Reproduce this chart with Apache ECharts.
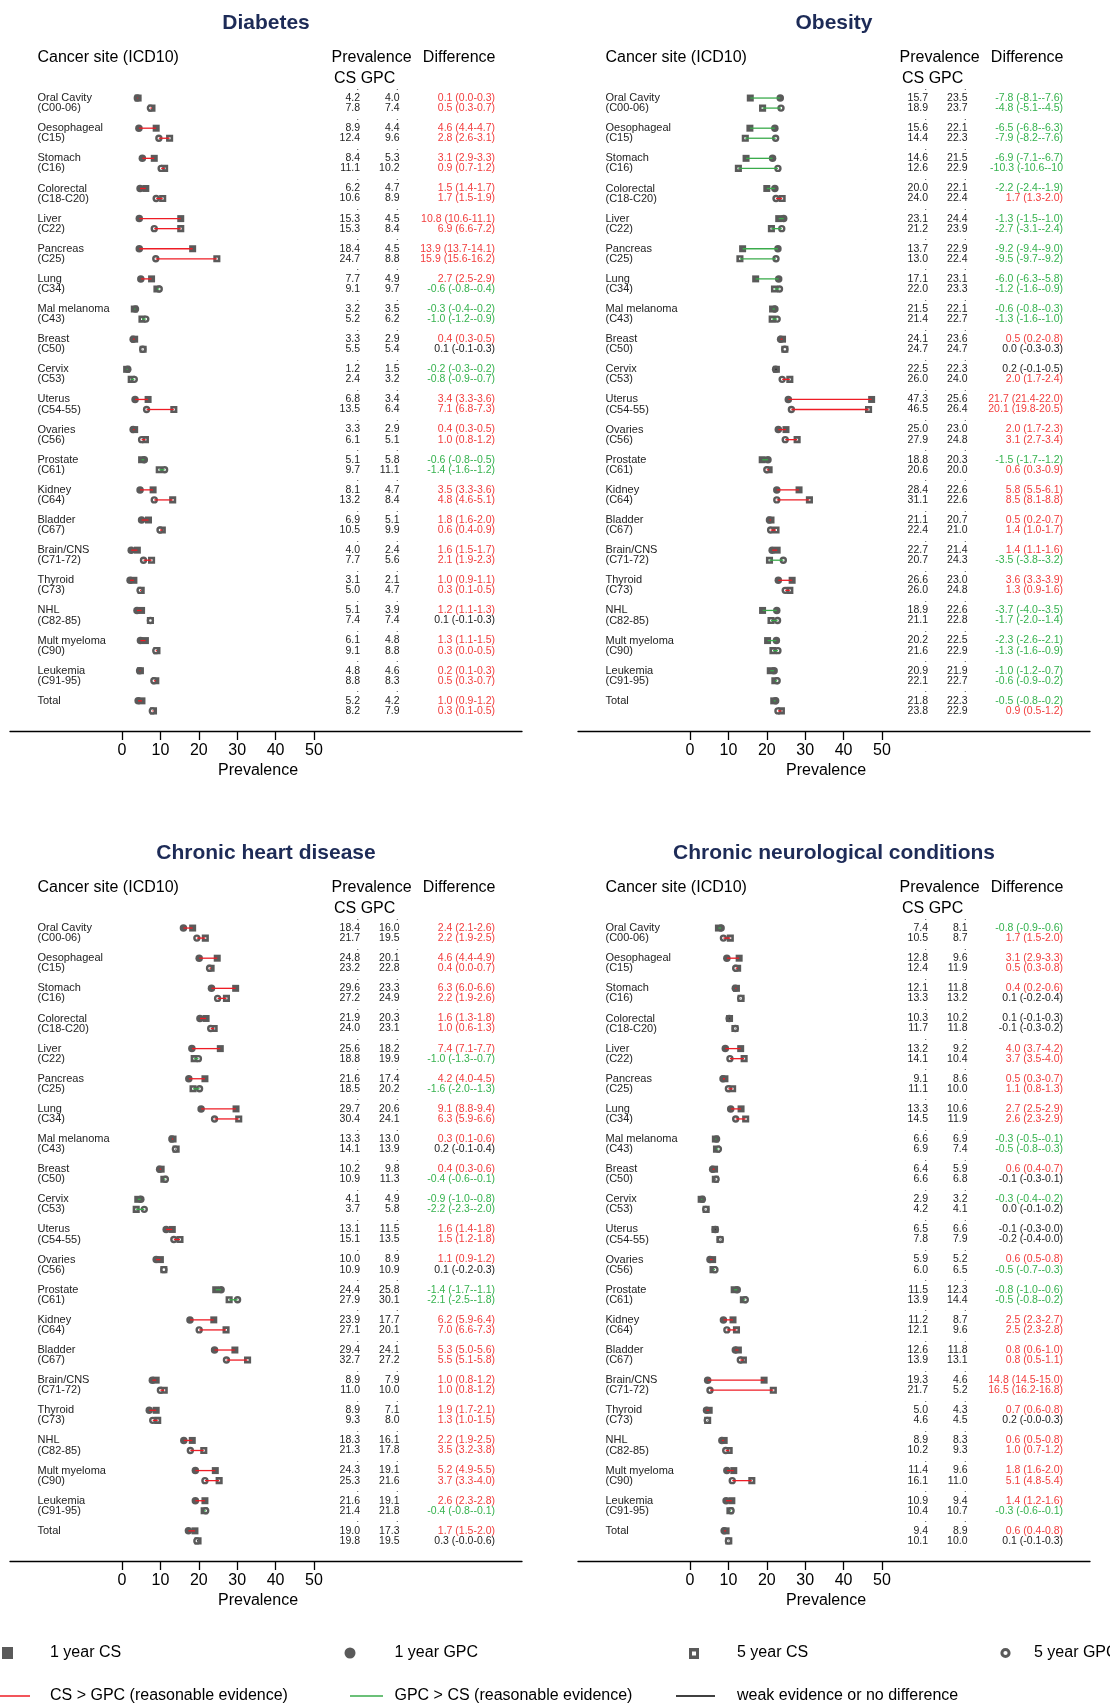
<!DOCTYPE html>
<html>
<head>
<meta charset="utf-8">
<title>Prevalence of comorbidities by cancer site</title>
<script src="https://cdn.jsdelivr.net/npm/echarts@6.0.0/dist/echarts.min.js"></script>
<style>
    html, body { margin: 0; padding: 0; background: #fff; }
    #main { width: 1110px; height: 1705px; }
</style>
</head>
<body>
<div id="main"></div>
<script>
    // ---- data ----
    const sites = ['Oral Cavity', 'Oesophageal', 'Stomach', 'Colorectal', 'Liver', 'Pancreas', 'Lung',
        'Mal melanoma', 'Breast', 'Cervix', 'Uterus', 'Ovaries', 'Prostate', 'Kidney', 'Bladder',
        'Brain/CNS', 'Thyroid', 'NHL', 'Mult myeloma', 'Leukemia', 'Total'];
    const codes = ['(C00-06)', '(C15)', '(C16)', '(C18-C20)', '(C22)', '(C25)', '(C34)', '(C43)', '(C50)',
        '(C53)', '(C54-55)', '(C56)', '(C61)', '(C64)', '(C67)', '(C71-72)', '(C73)', '(C82-85)', '(C90)',
        '(C91-95)', ''];
    const xTicks = [0, 10, 20, 30, 40, 50];
    const panelTitles = ['Diabetes', 'Obesity', 'Chronic heart disease', 'Chronic neurological conditions'];

    const diabetesCs1 = [4.2, 8.9, 8.4, 6.2, 15.3, 18.4, 7.7, 3.2, 3.3, 1.2, 6.8, 3.3, 5.1, 8.1, 6.9, 4.0, 3.1, 5.1, 6.1, 4.8, 5.2];
    const diabetesGpc1 = [4.0, 4.4, 5.3, 4.7, 4.5, 4.5, 4.9, 3.5, 2.9, 1.5, 3.4, 2.9, 5.8, 4.7, 5.1, 2.4, 2.1, 3.9, 4.8, 4.6, 4.2];
    const diabetesCs5 = [7.8, 12.4, 11.1, 10.6, 15.3, 24.7, 9.1, 5.2, 5.5, 2.4, 13.5, 6.1, 9.7, 13.2, 10.5, 7.7, 5.0, 7.4, 9.1, 8.8, 8.2];
    const diabetesGpc5 = [7.4, 9.6, 10.2, 8.9, 8.4, 8.8, 9.7, 6.2, 5.4, 3.2, 6.4, 5.1, 11.1, 8.4, 9.9, 5.6, 4.7, 7.4, 8.8, 8.3, 7.9];
    const diabetesDiff1 = ['0.1 (0.0-0.3)', '4.6 (4.4-4.7)', '3.1 (2.9-3.3)', '1.5 (1.4-1.7)', '10.8 (10.6-11.1)',
        '13.9 (13.7-14.1)', '2.7 (2.5-2.9)', '-0.3 (-0.4--0.2)', '0.4 (0.3-0.5)', '-0.2 (-0.3--0.2)', '3.4 (3.3-3.6)',
        '0.4 (0.3-0.5)', '-0.6 (-0.8--0.5)', '3.5 (3.3-3.6)', '1.8 (1.6-2.0)', '1.6 (1.5-1.7)', '1.0 (0.9-1.1)',
        '1.2 (1.1-1.3)', '1.3 (1.1-1.5)', '0.2 (0.1-0.3)', '1.0 (0.9-1.2)'];
    const diabetesDiff5 = ['0.5 (0.3-0.7)', '2.8 (2.6-3.1)', '0.9 (0.7-1.2)', '1.7 (1.5-1.9)', '6.9 (6.6-7.2)',
        '15.9 (15.6-16.2)', '-0.6 (-0.8--0.4)', '-1.0 (-1.2--0.9)', '0.1 (-0.1-0.3)', '-0.8 (-0.9--0.7)', '7.1 (6.8-7.3)',
        '1.0 (0.8-1.2)', '-1.4 (-1.6--1.2)', '4.8 (4.6-5.1)', '0.6 (0.4-0.9)', '2.1 (1.9-2.3)', '0.3 (0.1-0.5)',
        '0.1 (-0.1-0.3)', '0.3 (0.0-0.5)', '0.5 (0.3-0.7)', '0.3 (0.1-0.5)'];

    const obesityCs1 = [15.7, 15.6, 14.6, 20.0, 23.1, 13.7, 17.1, 21.5, 24.1, 22.5, 47.3, 25.0, 18.8, 28.4, 21.1, 22.7, 26.6, 18.9, 20.2, 20.9, 21.8];
    const obesityGpc1 = [23.5, 22.1, 21.5, 22.1, 24.4, 22.9, 23.1, 22.1, 23.6, 22.3, 25.6, 23.0, 20.3, 22.6, 20.7, 21.4, 23.0, 22.6, 22.5, 21.9, 22.3];
    const obesityCs5 = [18.9, 14.4, 12.6, 24.0, 21.2, 13.0, 22.0, 21.4, 24.7, 26.0, 46.5, 27.9, 20.6, 31.1, 22.4, 20.7, 26.0, 21.1, 21.6, 22.1, 23.8];
    const obesityGpc5 = [23.7, 22.3, 22.9, 22.4, 23.9, 22.4, 23.3, 22.7, 24.7, 24.0, 26.4, 24.8, 20.0, 22.6, 21.0, 24.3, 24.8, 22.8, 22.9, 22.7, 22.9];
    const obesityDiff1 = ['-7.8 (-8.1--7.6)', '-6.5 (-6.8--6.3)', '-6.9 (-7.1--6.7)', '-2.2 (-2.4--1.9)', '-1.3 (-1.5--1.0)',
        '-9.2 (-9.4--9.0)', '-6.0 (-6.3--5.8)', '-0.6 (-0.8--0.3)', '0.5 (0.2-0.8)', '0.2 (-0.1-0.5)', '21.7 (21.4-22.0)',
        '2.0 (1.7-2.3)', '-1.5 (-1.7--1.2)', '5.8 (5.5-6.1)', '0.5 (0.2-0.7)', '1.4 (1.1-1.6)', '3.6 (3.3-3.9)',
        '-3.7 (-4.0--3.5)', '-2.3 (-2.6--2.1)', '-1.0 (-1.2--0.7)', '-0.5 (-0.8--0.2)'];
    const obesityDiff5 = ['-4.8 (-5.1--4.5)', '-7.9 (-8.2--7.6)', '-10.3 (-10.6--10', '1.7 (1.3-2.0)', '-2.7 (-3.1--2.4)',
        '-9.5 (-9.7--9.2)', '-1.2 (-1.6--0.9)', '-1.3 (-1.6--1.0)', '0.0 (-0.3-0.3)', '2.0 (1.7-2.4)', '20.1 (19.8-20.5)',
        '3.1 (2.7-3.4)', '0.6 (0.3-0.9)', '8.5 (8.1-8.8)', '1.4 (1.0-1.7)', '-3.5 (-3.8--3.2)', '1.3 (0.9-1.6)',
        '-1.7 (-2.0--1.4)', '-1.3 (-1.6--0.9)', '-0.6 (-0.9--0.2)', '0.9 (0.5-1.2)'];

    const heartCs1 = [18.4, 24.8, 29.6, 21.9, 25.6, 21.6, 29.7, 13.3, 10.2, 4.1, 13.1, 10.0, 24.4, 23.9, 29.4, 8.9, 8.9, 18.3, 24.3, 21.6, 19.0];
    const heartGpc1 = [16.0, 20.1, 23.3, 20.3, 18.2, 17.4, 20.6, 13.0, 9.8, 4.9, 11.5, 8.9, 25.8, 17.7, 24.1, 7.9, 7.1, 16.1, 19.1, 19.1, 17.3];
    const heartCs5 = [21.7, 23.2, 27.2, 24.0, 18.8, 18.5, 30.4, 14.1, 10.9, 3.7, 15.1, 10.9, 27.9, 27.1, 32.7, 11.0, 9.3, 21.3, 25.3, 21.4, 19.8];
    const heartGpc5 = [19.5, 22.8, 24.9, 23.1, 19.9, 20.2, 24.1, 13.9, 11.3, 5.8, 13.5, 10.9, 30.1, 20.1, 27.2, 10.0, 8.0, 17.8, 21.6, 21.8, 19.5];
    const heartDiff1 = ['2.4 (2.1-2.6)', '4.6 (4.4-4.9)', '6.3 (6.0-6.6)', '1.6 (1.3-1.8)', '7.4 (7.1-7.7)',
        '4.2 (4.0-4.5)', '9.1 (8.8-9.4)', '0.3 (0.1-0.6)', '0.4 (0.3-0.6)', '-0.9 (-1.0--0.8)', '1.6 (1.4-1.8)',
        '1.1 (0.9-1.2)', '-1.4 (-1.7--1.1)', '6.2 (5.9-6.4)', '5.3 (5.0-5.6)', '1.0 (0.8-1.2)', '1.9 (1.7-2.1)',
        '2.2 (1.9-2.5)', '5.2 (4.9-5.5)', '2.6 (2.3-2.8)', '1.7 (1.5-2.0)'];
    const heartDiff5 = ['2.2 (1.9-2.5)', '0.4 (0.0-0.7)', '2.2 (1.9-2.6)', '1.0 (0.6-1.3)', '-1.0 (-1.3--0.7)',
        '-1.6 (-2.0--1.3)', '6.3 (5.9-6.6)', '0.2 (-0.1-0.4)', '-0.4 (-0.6--0.1)', '-2.2 (-2.3--2.0)', '1.5 (1.2-1.8)',
        '0.1 (-0.2-0.3)', '-2.1 (-2.5--1.8)', '7.0 (6.6-7.3)', '5.5 (5.1-5.8)', '1.0 (0.8-1.2)', '1.3 (1.0-1.5)',
        '3.5 (3.2-3.8)', '3.7 (3.3-4.0)', '-0.4 (-0.8--0.1)', '0.3 (-0.0-0.6)'];

    const neuroCs1 = [7.4, 12.8, 12.1, 10.3, 13.2, 9.1, 13.3, 6.6, 6.4, 2.9, 6.5, 5.9, 11.5, 11.2, 12.6, 19.3, 5.0, 8.9, 11.4, 10.9, 9.4];
    const neuroGpc1 = [8.1, 9.6, 11.8, 10.2, 9.2, 8.6, 10.6, 6.9, 5.9, 3.2, 6.6, 5.2, 12.3, 8.7, 11.8, 4.6, 4.3, 8.3, 9.6, 9.4, 8.9];
    const neuroCs5 = [10.5, 12.4, 13.3, 11.7, 14.1, 11.1, 14.5, 6.9, 6.6, 4.2, 7.8, 6.0, 13.9, 12.1, 13.9, 21.7, 4.6, 10.2, 16.1, 10.4, 10.1];
    const neuroGpc5 = [8.7, 11.9, 13.2, 11.8, 10.4, 10.0, 11.9, 7.4, 6.8, 4.1, 7.9, 6.5, 14.4, 9.6, 13.1, 5.2, 4.5, 9.3, 11.0, 10.7, 10.0];
    const neuroDiff1 = ['-0.8 (-0.9--0.6)', '3.1 (2.9-3.3)', '0.4 (0.2-0.6)', '0.1 (-0.1-0.3)', '4.0 (3.7-4.2)',
        '0.5 (0.3-0.7)', '2.7 (2.5-2.9)', '-0.3 (-0.5--0.1)', '0.6 (0.4-0.7)', '-0.3 (-0.4--0.2)', '-0.1 (-0.3-0.0)',
        '0.6 (0.5-0.8)', '-0.8 (-1.0--0.6)', '2.5 (2.3-2.7)', '0.8 (0.6-1.0)', '14.8 (14.5-15.0)', '0.7 (0.6-0.8)',
        '0.6 (0.5-0.8)', '1.8 (1.6-2.0)', '1.4 (1.2-1.6)', '0.6 (0.4-0.8)'];
    const neuroDiff5 = ['1.7 (1.5-2.0)', '0.5 (0.3-0.8)', '0.1 (-0.2-0.4)', '-0.1 (-0.3-0.2)', '3.7 (3.5-4.0)',
        '1.1 (0.8-1.3)', '2.6 (2.3-2.9)', '-0.5 (-0.8--0.3)', '-0.1 (-0.3-0.1)', '0.0 (-0.1-0.2)', '-0.2 (-0.4-0.0)',
        '-0.5 (-0.7--0.3)', '-0.5 (-0.8--0.2)', '2.5 (2.3-2.8)', '0.8 (0.5-1.1)', '16.5 (16.2-16.8)', '0.2 (-0.0-0.3)',
        '1.0 (0.7-1.2)', '5.1 (4.8-5.4)', '-0.3 (-0.6--0.1)', '0.1 (-0.1-0.3)'];

    const panels = [
        {cs1: diabetesCs1, gpc1: diabetesGpc1, cs5: diabetesCs5, gpc5: diabetesGpc5, diff1: diabetesDiff1, diff5: diabetesDiff5},
        {cs1: obesityCs1, gpc1: obesityGpc1, cs5: obesityCs5, gpc5: obesityGpc5, diff1: obesityDiff1, diff5: obesityDiff5},
        {cs1: heartCs1, gpc1: heartGpc1, cs5: heartCs5, gpc5: heartGpc5, diff1: heartDiff1, diff5: heartDiff5},
        {cs1: neuroCs1, gpc1: neuroGpc1, cs5: neuroCs5, gpc5: neuroGpc5, diff1: neuroDiff1, diff5: neuroDiff5}
    ];

    // ---- layout / style ----
    const FONT = '"Liberation Sans", Arial, Helvetica, sans-serif';
    const GREY = '#5a5a5a';
    const TEXT = '#222';
    const lineColor = {cs: '#ee1c25', gpc: '#3aab4b', none: '#000'};
    const textColor = {cs: '#f23c3c', gpc: '#35b24e', none: '#222'};
    const offsets = [[0, 0], [568, 0], [0, 830], [568, 830]];

    // pixel of 0 and px per unit in the left panels
    const X0 = 122, PX = 3.84, AXIS_L = 10, AXIS_R = 522;
    const xMin = (AXIS_L - X0) / PX, xMax = (AXIS_R - X0) / PX;
    function unit(px) {
        return (px - X0) / PX;
    }
    const colName = unit(37.5), colCs = unit(360), colGpc = unit(399.5), colDiff = unit(495);

    // red when the CI is above 0, green when below 0
    function evidence(s) {
        let m = s.match(/\((-?[\d.]+)-(-?[\d.]*)/);
        if (!m) return 'none';
        if (m[1].charAt(0) !== '-') return 'cs';
        if (m[2].charAt(0) === '-') return 'gpc';
        return 'none';
    }

    function txt(text, x, y, align, color, size, weight) {
        return {
            type: 'text', x: x, y: y, silent: true,
            style: {
                text: text, fill: color, font: (weight || 'normal') + ' ' + size + 'px ' + FONT,
                align: align, verticalAlign: 'middle', textAlign: align, textVerticalAlign: 'middle'
            }
        };
    }

    function panelSeries(p, i) {
        let segs = [], kinds = [];
        sites.forEach(function (s, r) {
            segs.push([p.cs1[r], p.gpc1[r], r * 3]);
            kinds.push(evidence(p.diff1[r]));
            segs.push([p.cs5[r], p.gpc5[r], r * 3 + 1]);
            kinds.push(evidence(p.diff5[r]));
        });
        let base = {xAxisIndex: i, yAxisIndex: i, silent: true, animation: false};
        return [
            Object.assign({
                type: 'scatter', symbol: 'rect', symbolSize: 7, z: 2,
                itemStyle: {color: GREY, opacity: 1},
                data: p.cs1.map((v, r) => [v, r * 3])
            }, base),
            Object.assign({
                type: 'scatter', symbol: 'circle', symbolSize: 7.5, z: 2,
                itemStyle: {color: GREY, opacity: 1},
                data: p.gpc1.map((v, r) => [v, r * 3])
            }, base),
            Object.assign({
                type: 'scatter', symbol: 'rect', symbolSize: 4.5, z: 2,
                itemStyle: {color: '#fff', borderColor: GREY, borderWidth: 2.6, opacity: 1},
                data: p.cs5.map((v, r) => [v, r * 3 + 1])
            }, base),
            Object.assign({
                type: 'scatter', symbol: 'circle', symbolSize: 5, z: 2,
                itemStyle: {color: '#fff', borderColor: GREY, borderWidth: 2.4, opacity: 1},
                data: p.gpc5.map((v, r) => [v, r * 3 + 1])
            }, base),
            Object.assign({
                type: 'custom', z: 5, encode: {x: [0, 1], y: 2},
                data: segs,
                renderItem: function (params, api) {
                    let a = api.coord([api.value(0), api.value(2)]);
                    let b = api.coord([api.value(1), api.value(2)]);
                    return {
                        type: 'line',
                        shape: {x1: a[0], y1: a[1], x2: b[0], y2: b[1]},
                        style: {stroke: lineColor[kinds[params.dataIndex]], lineWidth: 1.3}
                    };
                }
            }, base),
            Object.assign({
                type: 'custom', z: 6,
                data: sites.map((s, r) => [colCs, r * 3]),
                renderItem: function (params, api) {
                    let r = params.dataIndex;
                    let y1 = api.coord([0, r * 3])[1], y5 = api.coord([0, r * 3 + 1])[1];
                    let xN = api.coord([colName, 0])[0], xC = api.coord([colCs, 0])[0];
                    let xG = api.coord([colGpc, 0])[0], xD = api.coord([colDiff, 0])[0];
                    let k1 = evidence(p.diff1[r]), k5 = evidence(p.diff5[r]);
                    let kids = [
                        txt(sites[r], xN, y1, 'left', TEXT, 11),
                        txt(codes[r], xN, y5, 'left', TEXT, 11),
                        txt('.', xC - 1, y1 - 11, 'right', TEXT, 9),
                        txt('.', xG - 1, y1 - 11, 'right', TEXT, 9),
                        txt(p.cs1[r].toFixed(1), xC, y1, 'right', TEXT, 10.5),
                        txt(p.gpc1[r].toFixed(1), xG, y1, 'right', TEXT, 10.5),
                        txt(p.cs5[r].toFixed(1), xC, y5, 'right', TEXT, 10.5),
                        txt(p.gpc5[r].toFixed(1), xG, y5, 'right', TEXT, 10.5),
                        txt(p.diff1[r], xD, y1, 'right', textColor[k1], 10.5),
                        txt(p.diff5[r], xD, y5, 'right', textColor[k5], 10.5)
                    ];
                    return {type: 'group', children: kids};
                }
            }, base)
        ];
    }

    // titles, headers and legend
    let graphics = [];
    offsets.forEach(function (o, i) {
        graphics.push(txt(panelTitles[i], 266 + o[0], 23 + o[1], 'center', '#1d2b57', 21, 'bold'));
        graphics.push(txt('Cancer site (ICD10)', 37.5 + o[0], 58 + o[1], 'left', '#000', 16));
        graphics.push(txt('Prevalence', 331.5 + o[0], 58 + o[1], 'left', '#000', 16));
        graphics.push(txt('Difference', 495.5 + o[0], 58 + o[1], 'right', '#000', 16));
        graphics.push(txt('CS GPC', 334 + o[0], 79 + o[1], 'left', '#000', 16));
    });
    graphics.push(
        {type: 'rect', shape: {x: 2, y: 1647, width: 11, height: 12}, style: {fill: GREY}},
        txt('1 year CS', 50, 1653, 'left', '#000', 16),
        {type: 'circle', shape: {cx: 350, cy: 1653, r: 5.5}, style: {fill: GREY}},
        txt('1 year GPC', 394.5, 1653, 'left', '#000', 16),
        {type: 'rect', shape: {x: 689, y: 1648, width: 10, height: 11}, style: {fill: GREY}},
        {type: 'rect', shape: {x: 692, y: 1651.5, width: 4, height: 4}, style: {fill: '#fff'}},
        txt('5 year CS', 737, 1653, 'left', '#000', 16),
        {type: 'circle', shape: {cx: 1005.5, cy: 1653, r: 3.6}, style: {fill: '#fff', stroke: GREY, lineWidth: 3}},
        txt('5 year GPC', 1034, 1653, 'left', '#000', 16),
        {type: 'line', shape: {x1: 0, y1: 1696, x2: 30, y2: 1696}, style: {stroke: lineColor.cs, lineWidth: 1.5}},
        txt('CS > GPC (reasonable evidence)', 50, 1696, 'left', '#000', 16),
        {type: 'line', shape: {x1: 350, y1: 1696, x2: 383, y2: 1696}, style: {stroke: lineColor.gpc, lineWidth: 1.5}},
        txt('GPC > CS (reasonable evidence)', 394.5, 1696, 'left', '#000', 16),
        {type: 'line', shape: {x1: 676, y1: 1696, x2: 715, y2: 1696}, style: {stroke: '#000', lineWidth: 1.5}},
        txt('weak evidence or no difference', 737, 1696, 'left', '#000', 16)
    );

    let option = {
        backgroundColor: '#fff',
        animation: false,
        textStyle: {fontFamily: FONT},
        grid: offsets.map(o => ({left: AXIS_L + o[0], top: 88 + o[1], width: AXIS_R - AXIS_L, height: 643})),
        xAxis: offsets.map((o, i) => ({
            gridIndex: i, type: 'value', min: xMin, max: xMax,
            splitLine: {show: false},
            axisLine: {show: true, onZero: false, lineStyle: {color: '#000', width: 1.3}},
            axisTick: {show: true, customValues: xTicks, length: 9, lineStyle: {color: '#000', width: 1.3}},
            axisLabel: {customValues: xTicks, margin: 12, fontSize: 16, color: '#000', fontFamily: FONT},
            name: 'Prevalence', nameLocation: 'middle', nameGap: 32,
            nameTextStyle: {fontSize: 16, color: '#000', fontFamily: FONT, padding: [0, 16, 0, 0]}
        })),
        yAxis: offsets.map((o, i) => ({
            gridIndex: i, type: 'value', min: -1, max: 63, inverse: true, show: false
        })),
        graphic: {elements: graphics},
        series: [].concat.apply([], panels.map(panelSeries))
    };

    let myChart = echarts.init(document.getElementById('main'), null, {renderer: 'canvas'});
    myChart.setOption(option);
</script>
</body>
</html>
